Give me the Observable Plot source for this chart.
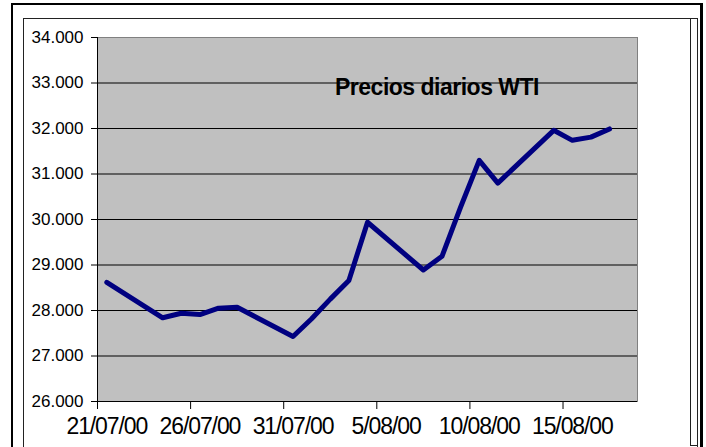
<!DOCTYPE html>
<html>
<head>
<meta charset="utf-8">
<script src="https://cdn.jsdelivr.net/npm/d3@7"></script>
<script src="https://cdn.jsdelivr.net/npm/@observablehq/plot@0.6"></script>
<style>
  html, body { margin: 0; padding: 0; background: #fff; }
  #wrap { position: relative; width: 706px; height: 447px; overflow: hidden; background: #fff; }
  #chart { position: absolute; left: 0; top: 0; }
  .deco { position: absolute; pointer-events: none; box-sizing: border-box; }
</style>
</head>
<body>
<div id="wrap">
  <div id="chart"></div>
  <div class="deco" style="left:11px;top:3px;width:692px;height:470px;border-top:2.5px solid #000;border-left:2px solid #000;border-right:3px solid #000;"></div>
  <div class="deco" style="left:23px;top:18px;width:675px;height:460px;border:1px solid #222;"></div>
  <div class="deco" style="left:690px;top:18px;width:8px;height:428px;border-left:1px solid #222;border-bottom:1px solid #222;"></div>
</div>
<script>
// ---- data ----
const dates = ["2000-07-21","2000-07-24","2000-07-25","2000-07-26","2000-07-27","2000-07-28",
               "2000-07-31","2000-08-01","2000-08-02","2000-08-03","2000-08-04",
               "2000-08-07","2000-08-08","2000-08-09","2000-08-10","2000-08-11",
               "2000-08-14","2000-08-15","2000-08-16","2000-08-17"];
const prices = [28.62, 27.84, 27.94, 27.91, 28.05, 28.07,
                27.43, 27.82, 28.25, 28.66, 29.94,
                28.89, 29.19, 30.27, 31.30, 30.80,
                31.96, 31.74, 31.81, 31.99];
const xTickDates = ["2000-07-21","2000-07-26","2000-07-31","2000-08-05","2000-08-10","2000-08-15"];
const xTickLabels = ["21/07/00","26/07/00","31/07/00","5/08/00","10/08/00","15/08/00"];
const yTicks = [26, 27, 28, 29, 30, 31, 32, 33, 34];
const yTickLabels = ["26.000","27.000","28.000","29.000","30.000","31.000","32.000","33.000","34.000"];
const title = "Precios diarios WTI";
const xDomain = ["2000-07-21", "2000-08-19"];

// ---- build ----
const HALF_DAY = 12 * 3600 * 1000;
const parse = s => new Date(s + "T00:00:00Z");
const data = dates.map((d, i) => ({date: new Date(+parse(d) + HALF_DAY), price: prices[i]}));
const tickDates = xTickDates.map(parse);
const labelDates = tickDates.map(d => new Date(+d + HALF_DAY));
const labelMap = new Map(labelDates.map((d, i) => [+d, xTickLabels[i]]));
const yLabelMap = new Map(yTicks.map((v, i) => [v, yTickLabels[i]]));

const chart = Plot.plot({
  width: 706,
  height: 447,
  marginLeft: 97,
  marginRight: 69,
  marginTop: 37,
  marginBottom: 46,
  style: {fontFamily: "'Liberation Sans', Arial, sans-serif", background: "transparent", color: "#000"},
  x: {type: "utc", domain: xDomain.map(parse)},
  y: {domain: [26, 34]},
  marks: [
    Plot.frame({fill: "#c0c0c0", stroke: null}),
    Plot.gridY(yTicks, {stroke: "#000", strokeOpacity: 1, strokeWidth: 1}),
    Plot.frame({stroke: "#808080", strokeWidth: 1}),
    Plot.axisY(yTicks, {tickSize: 6, tickPadding: 8, fontSize: 17, tickFormat: v => yLabelMap.get(v), stroke: "#000", label: null}),
    Plot.axisX(tickDates, {tickSize: 8, tickFormat: () => "", stroke: "#000", label: null}),
    Plot.axisX(labelDates, {tickSize: 0, tickPadding: 16, fontSize: 23, tickFormat: d => labelMap.get(+d), label: null}),
    Plot.ruleY([26], {stroke: "#000", strokeWidth: 1}),
    Plot.ruleX([parse(xDomain[0])], {stroke: "#000", strokeWidth: 1}),
    Plot.line(data, {x: "date", y: "price", stroke: "#000080", strokeWidth: 5, strokeLinejoin: "round", strokeLinecap: "round"}),
    Plot.text([title], {frameAnchor: "top", dx: 69.5, dy: 50, lineAnchor: "middle", textAnchor: "middle", fontSize: 23, fontWeight: "bold", fill: "#000"})
  ]
});

d3.select(chart).selectAll("g[aria-label='x-axis tick label'] text").style("letter-spacing", "-1.1px");
d3.select(chart).selectAll("g[aria-label='text'] text").style("letter-spacing", "-0.5px");
document.getElementById("chart").appendChild(chart);
</script>
</body>
</html>
